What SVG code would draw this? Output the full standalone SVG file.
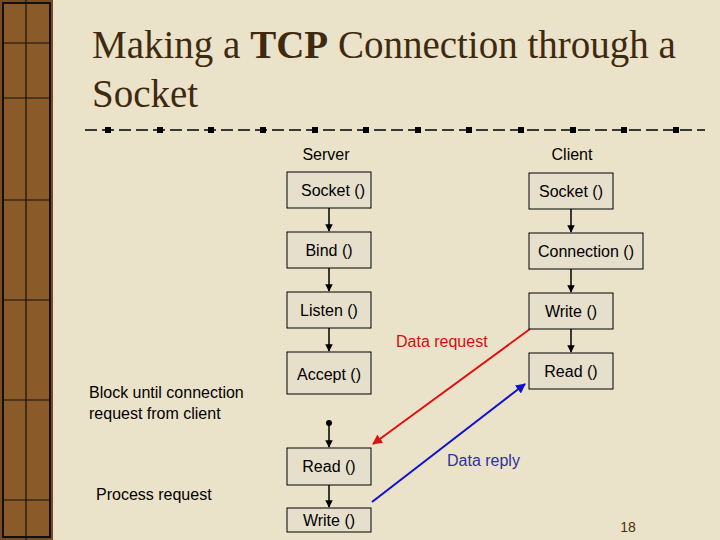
<svg xmlns="http://www.w3.org/2000/svg" width="720" height="540" viewBox="0 0 720 540">
<defs>
<style>
.box{fill:#e6dfcc;stroke:#000;stroke-width:1}
.t{font-family:"Liberation Sans",Arial,sans-serif;font-size:16px;fill:#000;text-anchor:middle}
.l{font-family:"Liberation Sans",Arial,sans-serif;font-size:16px;fill:#000}
.c{stroke:#000;stroke-width:1.5;fill:none}
</style>
<marker id="ah" viewBox="0 0 10 10" refX="9" refY="5" markerWidth="5" markerHeight="5" orient="auto"><path d="M0,0L10,5L0,10z" fill="#000"/></marker>
<marker id="ahr" viewBox="0 0 10 10" refX="9" refY="5" markerWidth="5" markerHeight="5" orient="auto"><path d="M0,0L10,5L0,10z" fill="#e01010"/></marker>
<marker id="ahb" viewBox="0 0 10 10" refX="9" refY="5" markerWidth="5" markerHeight="5" orient="auto"><path d="M0,0L10,5L0,10z" fill="#1010d0"/></marker>
</defs>
<rect width="720" height="540" fill="#ebe3c9"/>
<rect x="0" y="0" width="53" height="540" fill="#7a4a22"/>
<rect x="3" y="3" width="47" height="534" fill="#8a5a28" stroke="#111" stroke-width="2"/>
<g stroke="#111" stroke-width="1.2"><line x1="26" y1="0" x2="26" y2="540"/><line x1="3" y1="43" x2="50" y2="43"/><line x1="3" y1="98" x2="50" y2="98"/><line x1="3" y1="200" x2="50" y2="200"/><line x1="3" y1="300" x2="50" y2="300"/><line x1="3" y1="400" x2="50" y2="400"/><line x1="3" y1="500" x2="50" y2="500"/></g>
<text x="92" y="58" font-family="'Liberation Serif',serif" font-size="39" fill="#3f2a10">Making a <tspan font-weight="bold">TCP</tspan> Connection through a</text>
<text x="92" y="107" font-family="'Liberation Serif',serif" font-size="39" fill="#3f2a10">Socket</text>
<g id="separator">
<line x1="85" y1="130" x2="705" y2="130" stroke="#000" stroke-width="1.5" stroke-dasharray="12 5"/>
<g fill="#000">
<rect x="105" y="127" width="6" height="6"/><rect x="157" y="127" width="6" height="6"/><rect x="208" y="127" width="6" height="6"/><rect x="260" y="127" width="6" height="6"/><rect x="312" y="127" width="6" height="6"/><rect x="363" y="127" width="6" height="6"/><rect x="415" y="127" width="6" height="6"/><rect x="466" y="127" width="6" height="6"/><rect x="518" y="127" width="6" height="6"/><rect x="570" y="127" width="6" height="6"/><rect x="621" y="127" width="6" height="6"/><rect x="673" y="127" width="6" height="6"/>
</g></g>
<text class="t" x="326" y="160">Server</text>
<text class="t" x="572" y="160">Client</text>
<g id="connectors">
<line class="c" x1="329" y1="208" x2="329" y2="231" marker-end="url(#ah)"/>
<line class="c" x1="329" y1="268" x2="329" y2="291" marker-end="url(#ah)"/>
<line class="c" x1="329" y1="328" x2="329" y2="351" marker-end="url(#ah)"/>
<circle cx="329" cy="423" r="3" fill="#000"/>
<line class="c" x1="329" y1="423" x2="329" y2="447" marker-end="url(#ah)"/>
<line class="c" x1="329" y1="485" x2="329" y2="507" marker-end="url(#ah)"/>
<line class="c" x1="571" y1="209" x2="571" y2="232" marker-end="url(#ah)"/>
<line class="c" x1="571" y1="269" x2="571" y2="292" marker-end="url(#ah)"/>
<line class="c" x1="571" y1="329" x2="571" y2="352" marker-end="url(#ah)"/>
<line x1="530" y1="329" x2="373" y2="444" stroke="#e01010" stroke-width="2" marker-end="url(#ahr)"/>
<line x1="372" y1="502" x2="525" y2="384" stroke="#1010d0" stroke-width="2" marker-end="url(#ahb)"/>
<text x="396" y="347" font-family="'Liberation Sans',Arial,sans-serif" font-size="16" fill="#d01010">Data request</text>
<text x="447" y="466" font-family="'Liberation Sans',Arial,sans-serif" font-size="16" fill="#3030a0">Data reply</text>
</g>
<g id="s_socket"><rect class="box" x="287" y="172" width="84" height="36"/><text class="t" x="333" y="196">Socket ()</text></g>
<g id="s_bind"><rect class="box" x="287" y="232" width="84" height="36"/><text class="t" x="329" y="256">Bind ()</text></g>
<g id="s_listen"><rect class="box" x="287" y="292" width="84" height="36"/><text class="t" x="329" y="316">Listen ()</text></g>
<g id="s_accept"><rect class="box" x="287" y="352" width="84" height="42"/><text class="t" x="329" y="380">Accept ()</text></g>
<g id="s_read"><rect class="box" x="287" y="448" width="84" height="37"/><text class="t" x="329" y="472">Read ()</text></g>
<g id="s_write"><rect class="box" x="287" y="508" width="84" height="24"/><text class="t" x="329" y="526">Write ()</text></g>
<g id="c_socket"><rect class="box" x="529" y="173" width="84" height="36"/><text class="t" x="571" y="197">Socket ()</text></g>
<g id="c_conn"><rect class="box" x="529" y="233" width="114" height="36"/><text class="t" x="586" y="257">Connection ()</text></g>
<g id="c_write"><rect class="box" x="529" y="293" width="84" height="36"/><text class="t" x="571" y="317">Write ()</text></g>
<g id="c_read"><rect class="box" x="529" y="353" width="84" height="36"/><text class="t" x="571" y="377">Read ()</text></g>
<text class="l" x="89" y="398">Block until connection</text>
<text class="l" x="89" y="419">request from client</text>
<text class="l" x="96" y="500">Process request</text>
<text x="628" y="532" font-family="'Liberation Sans',Arial,sans-serif" font-size="14" fill="#4a3010" text-anchor="middle">18</text>
</svg>
